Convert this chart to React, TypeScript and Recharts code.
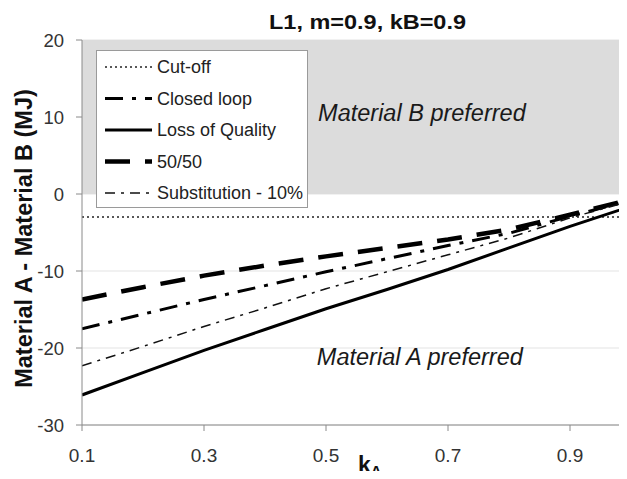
import React from 'react';
import {
  LineChart,
  Line,
  XAxis,
  YAxis,
  CartesianGrid,
  ReferenceArea,
  ReferenceDot,
  Legend,
  Label,
} from 'recharts';

// ---- data ----
const kA = [0.1, 0.2, 0.3, 0.4, 0.5, 0.6, 0.7, 0.8, 0.9, 1.0];
const cutOff = [-3, -3, -3, -3, -3, -3, -3, -3, -3, -3];
const closedLoop = [-17.5, -15.6, -13.7, -11.9, -10.1, -8.4, -6.7, -5.1, -2.9, -0.8];
const lossOfQuality = [-26.1, -23.2, -20.3, -17.6, -14.9, -12.4, -9.8, -7.0, -4.2, -1.6];
const fiftyFifty = [-13.7, -12.1, -10.6, -9.3, -8.1, -7.0, -5.9, -4.6, -2.7, -0.7];
const substitution10 = [-22.3, -19.8, -17.2, -14.8, -12.3, -10.1, -7.9, -5.7, -3.1, -0.9];

const xTicks = [0.1, 0.3, 0.5, 0.7, 0.9];
const yTicks = [-30, -20, -10, 0, 10, 20];
const title = 'L1, m=0.9, kB=0.9';
const yTitle = 'Material A - Material B (MJ)';

const annotationTexts = ['Material B preferred', 'Material A preferred'];
const annotationK = [0.487, 0.485];
const annotationV = [9.5, -22.2];

const data = kA.map((k, i) => ({
  k,
  cutOff: cutOff[i],
  closedLoop: closedLoop[i],
  lossOfQuality: lossOfQuality[i],
  fiftyFifty: fiftyFifty[i],
  substitution10: substitution10[i],
}));

const series = [
  { key: 'cutOff', name: 'Cut-off', width: 1.5, dash: '2 3', color: '#222' },
  { key: 'closedLoop', name: 'Closed loop', width: 3, dash: '18 9 4 9', color: '#000' },
  { key: 'lossOfQuality', name: 'Loss of Quality', width: 3, dash: undefined, color: '#000' },
  { key: 'fiftyFifty', name: '50/50', width: 4.5, dash: '25 15', color: '#000' },
  { key: 'substitution10', name: 'Substitution - 10%', width: 1.5, dash: '10 6 3 6', color: '#111' },
];

const FONT = '"Liberation Sans", Arial, Helvetica, sans-serif';

const renderLegend = () => (
  <svg width={212} height={158} style={{ display: 'block', fontFamily: FONT }}>
    <rect x={0.5} y={0.5} width={211} height={157} fill="#fff" stroke="#9a9a9a" />
    {series.map((s, i) => {
      const y = 17 + i * 31.5;
      return (
        <g key={s.key}>
          <line
            x1={9}
            x2={56}
            y1={y}
            y2={y}
            stroke={s.color}
            strokeWidth={s.width}
            strokeDasharray={s.dash}
          />
          <text x={61} y={y} dy="0.36em" fontSize={18} fill="#222">
            {s.name}
          </text>
        </g>
      );
    })}
  </svg>
);

const YTitle = (props: any) => {
  const vb = props.viewBox || {};
  const cx = (vb.x || 0) + 32;
  const cy = (vb.y || 0) + (vb.height || 0) / 2 + 6;
  return (
    <text
      x={cx}
      y={cy}
      transform={`rotate(-90 ${cx} ${cy})`}
      textAnchor="middle"
      fontSize={23.5}
      fontWeight="bold"
      fill="#111"
      fontFamily={FONT}
    >
      {yTitle}
    </text>
  );
};

const XTitle = (props: any) => {
  const vb = props.viewBox || {};
  const x = (vb.x || 0) + 276;
  const y = (vb.y || 0) + 48;
  return (
    <text x={x} y={y} fontSize={23} fontWeight="bold" fill="#111" fontFamily={FONT}>
      k
      <tspan fontSize={15} dy={3}>
        A
      </tspan>
    </text>
  );
};

const makeAnnotation = (txt: string) => (props: any) => {
  const vb = props.viewBox || {};
  return (
    <text
      x={vb.x}
      y={vb.y}
      fontSize={23.5}
      fontStyle="italic"
      fill="#1a1a1a"
      fontFamily={FONT}
    >
      {txt}
    </text>
  );
};

export default function App() {
  return (
    <div
      style={{
        margin: '-8px -8px -8px -8px',
        width: 627,
        height: 479,
        overflow: 'hidden',
        position: 'relative',
        fontFamily: FONT,
        background: '#fff',
      }}
    >
      <LineChart
        width={640}
        height={479}
        data={data}
        margin={{ top: 40, right: 9, bottom: 0, left: 0 }}
      >
        <ReferenceArea y1={0} y2={20} fill="#dcdcdc" fillOpacity={1} stroke="none" />
        <CartesianGrid vertical={false} stroke="#e3e3e3" />
        <XAxis
          type="number"
          dataKey="k"
          domain={[0.1, 1.0]}
          ticks={xTicks}
          tickFormatter={(v: number) => v.toFixed(1)}
          height={54}
          tickSize={6}
          tickMargin={18}
          axisLine={{ stroke: '#8a8a8a' }}
          tickLine={{ stroke: '#8a8a8a' }}
          tick={{ fontSize: 19, fill: '#333', fontFamily: FONT }}
          allowDataOverflow
        >
          <Label content={XTitle} />
        </XAxis>
        <YAxis
          type="number"
          domain={[-30, 20]}
          ticks={yTicks}
          width={82}
          tickSize={6}
          tickMargin={12}
          axisLine={{ stroke: '#8a8a8a' }}
          tickLine={{ stroke: '#8a8a8a' }}
          tick={{ fontSize: 18.5, fill: '#333', fontFamily: FONT }}
        >
          <Label content={YTitle} />
        </YAxis>
        {series.map((s) => (
          <Line
            key={s.key}
            type="linear"
            dataKey={s.key}
            name={s.name}
            stroke={s.color}
            strokeWidth={s.width}
            strokeDasharray={s.dash}
            dot={false}
            activeDot={false}
            isAnimationActive={false}
          />
        ))}
        {annotationTexts.map((t, i) => (
          <ReferenceDot
            key={t}
            x={annotationK[i]}
            y={annotationV[i]}
            r={0}
            fill="none"
            stroke="none"
            label={makeAnnotation(t)}
          />
        ))}
        <Legend
          layout="vertical"
          align="center"
          verticalAlign="middle"
          content={renderLegend}
          wrapperStyle={{ position: 'absolute', left: 96, top: 50, width: 212, height: 158 }}
        />
      </LineChart>
      <svg
        width={627}
        height={40}
        style={{ position: 'absolute', left: 0, top: 0, pointerEvents: 'none' }}
      >
        <text
          x={269}
          y={29}
          fontSize={20.5}
          fontWeight="bold"
          textLength={197}
          lengthAdjust="spacingAndGlyphs"
          fill="#111"
          fontFamily={FONT}
        >
          {title}
        </text>
      </svg>
    </div>
  );
}
